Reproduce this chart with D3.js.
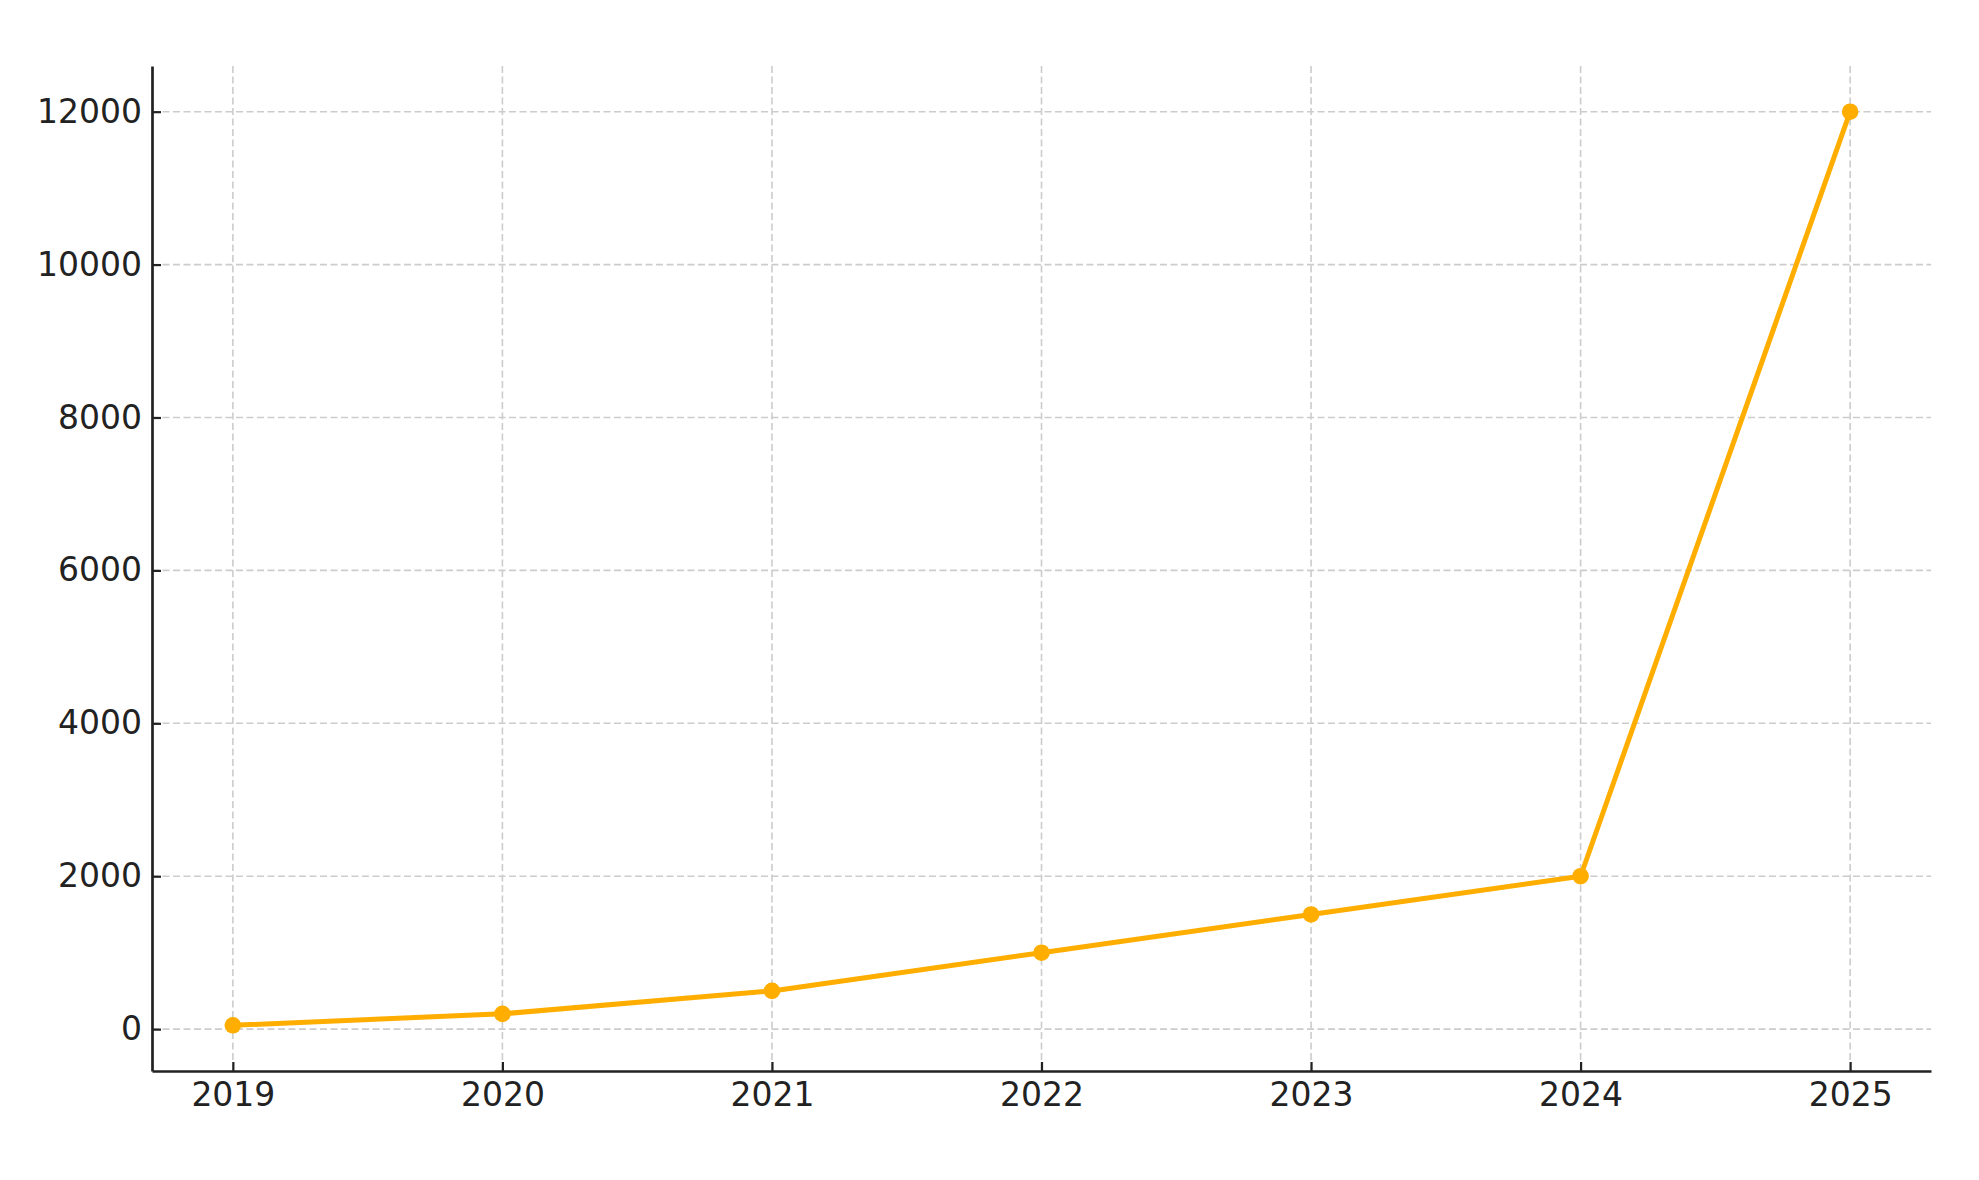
<!DOCTYPE html>
<html>
<head>
<meta charset="utf-8">
<script src="https://cdn.jsdelivr.net/npm/d3@7"></script>
<style>
  body { margin: 0; background: #fff; }
  text { font-family: "DejaVu Sans", sans-serif; }
</style>
</head>
<body>
<div id="chart-area"></div>
<script>
// Data
const years = [2019, 2020, 2021, 2022, 2023, 2024, 2025];
const values = [50, 200, 500, 1000, 1500, 2000, 12000];
const yTicks = [0, 2000, 4000, 6000, 8000, 10000, 12000];

// Constants
const W = 1979, H = 1180;
const PLOT = { LEFT: 152, RIGHT: 1931, TOP: 66, BOTTOM: 1071 };
const COLOR = '#ffae00';
const INK = '#222';

const svg = d3.select('#chart-area')
    .append('svg')
    .attr('width', W)
    .attr('height', H);

// matplotlib-like 5% margins
const xPad = 0.05 * (d3.max(years) - d3.min(years));
const yPad = 0.05 * (d3.max(values) - d3.min(values));

const x = d3.scaleLinear()
    .domain([d3.min(years) - xPad, d3.max(years) + xPad])
    .range([PLOT.LEFT, PLOT.RIGHT]);

const y = d3.scaleLinear()
    .domain([d3.min(values) - yPad, d3.max(values) + yPad])
    .range([PLOT.BOTTOM, PLOT.TOP]);

// Grid
const grid = svg.append('g')
    .attr('stroke', '#cccccc')
    .attr('stroke-width', 1.6)
    .attr('stroke-dasharray', '7,3.5');

grid.selectAll('.vg')
    .data(years)
    .enter().append('line')
    .attr('x1', d => x(d)).attr('x2', d => x(d))
    .attr('y1', PLOT.TOP).attr('y2', PLOT.BOTTOM);

grid.selectAll('.hg')
    .data(yTicks)
    .enter().append('line')
    .attr('x1', PLOT.LEFT).attr('x2', PLOT.RIGHT)
    .attr('y1', d => y(d)).attr('y2', d => y(d));

// Line + markers
const line = d3.line()
    .x((d, i) => x(years[i]))
    .y(d => y(d));

svg.append('path')
    .datum(values)
    .attr('d', line)
    .attr('fill', 'none')
    .attr('stroke', COLOR)
    .attr('stroke-width', 5)
    .attr('stroke-linejoin', 'round');

svg.selectAll('circle')
    .data(values)
    .enter().append('circle')
    .attr('cx', (d, i) => x(years[i]))
    .attr('cy', d => y(d))
    .attr('r', 8.3)
    .attr('fill', COLOR);

// Axes
const xAxis = d3.axisBottom(x)
    .tickValues(years)
    .tickFormat(d3.format('d'))
    .tickSizeInner(-9)
    .tickSizeOuter(0)
    .tickPadding(12);

const yAxis = d3.axisLeft(y)
    .tickValues(yTicks)
    .tickFormat(d3.format('d'))
    .tickSizeInner(-9)
    .tickSizeOuter(0)
    .tickPadding(10);

const gx = svg.append('g')
    .attr('transform', `translate(0, ${PLOT.BOTTOM})`)
    .call(xAxis);

const gy = svg.append('g')
    .attr('transform', `translate(${PLOT.LEFT}, 0)`)
    .call(yAxis);

[gx, gy].forEach(g => {
    g.select('.domain').attr('stroke', INK).attr('stroke-width', 2.7);
    g.selectAll('.tick line').attr('stroke', INK).attr('stroke-width', 2.2);
    g.selectAll('.tick text')
        .attr('fill', INK)
        .style('font-size', '33px')
        .style('font-family', '"DejaVu Sans", sans-serif');
});
</script>
</body>
</html>
